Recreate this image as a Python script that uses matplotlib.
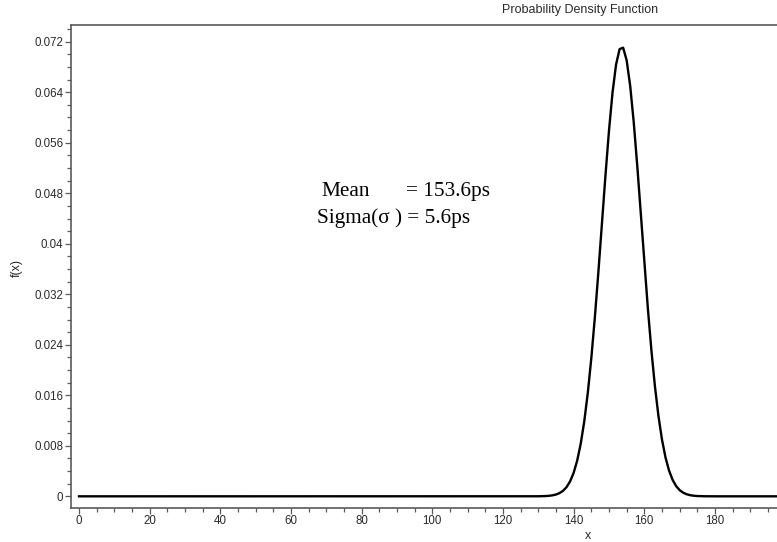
import numpy as np
import matplotlib
matplotlib.use("Agg")
import matplotlib.pyplot as plt
from matplotlib.ticker import MultipleLocator, FixedLocator, FixedFormatter

# Distribution parameters (ps)
MEAN = 153.6
SIGMA = 5.6

# Sample grid for the density curve
x_values = np.arange(0, 201, 1)

# Axis ticks
x_ticks = [0, 20, 40, 60, 80, 100, 120, 140, 160, 180, 200]
y_ticks = [0, 0.008, 0.016, 0.024, 0.032, 0.04, 0.048, 0.056, 0.064, 0.072]
y_tick_labels = ["0", "0.008", "0.016", "0.024", "0.032", "0.04", "0.048",
                 "0.056", "0.064", "0.072"]

density = np.exp(-0.5 * ((x_values - MEAN) / SIGMA) ** 2) / (SIGMA * np.sqrt(2 * np.pi))

W, H = 777, 542
fig = plt.figure(figsize=(W / 100, H / 100), dpi=100)

# axes frame in pixel coordinates (extends past the right edge)
left_px, right_px, top_px, bottom_px = 71, 800, 25, 507.5
ax = fig.add_axes([left_px / W, 1 - bottom_px / H,
                   (right_px - left_px) / W, (bottom_px - top_px) / H])

ax.plot(x_values, density, color="black", lw=1.7, solid_joinstyle="round")

px_per_unit = (715 - 79) / 180.0
ax.set_xlim(-(79 - left_px) / px_per_unit, (right_px - 79) / px_per_unit)
ax.set_ylim(-0.00177, 0.07465)

ax.xaxis.set_major_locator(FixedLocator(x_ticks))
ax.xaxis.set_minor_locator(MultipleLocator(5))
ax.yaxis.set_major_locator(FixedLocator(y_ticks))
ax.yaxis.set_major_formatter(FixedFormatter(y_tick_labels))
ax.yaxis.set_minor_locator(MultipleLocator(0.002))

spine_col = "#5a5a5a"
for s in ["left", "bottom", "top"]:
    ax.spines[s].set_color(spine_col)
    ax.spines[s].set_linewidth(1.2)
ax.spines["right"].set_visible(False)

ax.tick_params(which="both", direction="out", color=spine_col, width=0.9)
ax.tick_params(which="major", length=4, labelsize=8.3, labelcolor="#2a2a2a", pad=1.5)
ax.tick_params(which="minor", length=3)

sans = ["Liberation Sans", "DejaVu Sans"]
serif = ["Liberation Serif", "DejaVu Serif"]
for lab in ax.get_xticklabels() + ax.get_yticklabels():
    lab.set_family(sans)

fig.text(658 / W, 1 - 10 / H, "Probability Density Function", family=sans,
         fontsize=9, color="#2a2a2a", ha="right", va="center")
fig.text(588 / W, 1 - 536 / H, "x", family=sans, fontsize=9,
         color="#2a2a2a", ha="center", va="center")
fig.text(17 / W, 1 - 268 / H, "f(x)", family=sans, fontsize=9,
         color="#2a2a2a", ha="center", va="center", rotation=90)

# Parameter annotation
fig.text(321 / W, 1 - 196.5 / H, "Mean", family=serif, fontsize=15.3,
         color="black", ha="left", va="baseline")
fig.text(406 / W, 1 - 196.5 / H, "= 153.6ps", family=serif, fontsize=15.3,
         color="black", ha="left", va="baseline")
fig.text(317 / W, 1 - 223 / H, "Sigma(σ ) = 5.6ps", family=serif, fontsize=15.3,
         color="black", ha="left", va="baseline")

fig.savefig("out.png", dpi=100)
